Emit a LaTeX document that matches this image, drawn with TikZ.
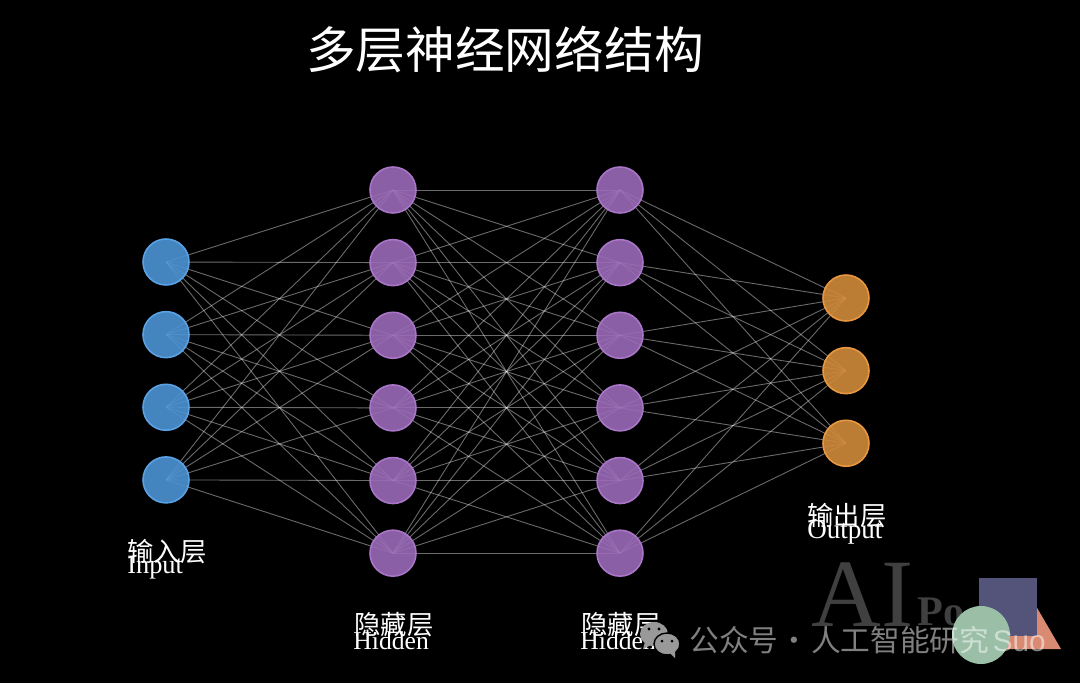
\documentclass[tikz,border=0pt]{standalone}
\usepackage{fontspec}
\usepackage{xcolor}
\usepackage{tikz}
\usetikzlibrary{backgrounds}
\setmainfont{Liberation Serif}
\setsansfont{Liberation Sans}
\newfontfamily\cjk{Noto Sans CJK SC}
\definecolor{inblue}{HTML}{4C93D4}
\definecolor{inrim}{HTML}{5AA2E6}
\definecolor{hidpurple}{HTML}{9A6AB7}
\definecolor{hidrim}{HTML}{A975C8}
\definecolor{outorange}{HTML}{D08A3A}
\definecolor{outrim}{HTML}{EA9840}
\definecolor{squareblue}{HTML}{54547A}
\definecolor{salmon}{HTML}{D98A72}
\definecolor{paleteal}{HTML}{9ABFA6}
\definecolor{wechatgray}{HTML}{999999}
\tikzset{
    neuron/.style={circle, minimum size=0.92cm, inner sep=0pt, line width=0.9pt, fill opacity=0.9},
    innode/.style={neuron, draw=inrim, fill=inblue},
    hidnode/.style={neuron, draw=hidrim, fill=hidpurple},
    outnode/.style={neuron, draw=outrim, fill=outorange},
    link/.style={draw=white, opacity=0.42, line width=0.5pt},
    layerlabel/.style={text=white, anchor=west, inner sep=0pt, font=\fontsize{15}{15}\selectfont}
}

\begin{document}
\begin{tikzpicture}[x=0.02cm, y=-0.02cm, node distance=1.453cm]

    \useasboundingbox (0,0) rectangle (1080,683);

    % Nodes
    \node (i1) at (166,262) [innode] {};
    \node (i2) [below of=i1, innode] {};
    \node (i3) [below of=i2, innode] {};
    \node (i4) [below of=i3, innode] {};

    \node (a1) at (393,190) [hidnode] {};
    \node (a2) [below of=a1, hidnode] {};
    \node (a3) [below of=a2, hidnode] {};
    \node (a4) [below of=a3, hidnode] {};
    \node (a5) [below of=a4, hidnode] {};
    \node (a6) [below of=a5, hidnode] {};

    \node (b1) at (620,190) [hidnode] {};
    \node (b2) [below of=b1, hidnode] {};
    \node (b3) [below of=b2, hidnode] {};
    \node (b4) [below of=b3, hidnode] {};
    \node (b5) [below of=b4, hidnode] {};
    \node (b6) [below of=b5, hidnode] {};

    \node (o1) at (846,298) [outnode] {};
    \node (o2) [below of=o1, outnode] {};
    \node (o3) [below of=o2, outnode] {};

    % Arrows
    \begin{scope}[on background layer]
        \fill[black] (0,0) rectangle (1080,683);
        \foreach \i in {1,...,4} {
            \foreach \j in {1,...,6} {
                \draw[link] (i\i.center) -- (a\j.center);
            }
        }
        \foreach \i in {1,...,6} {
            \foreach \j in {1,...,6} {
                \draw[link] (a\i.center) -- (b\j.center);
            }
        }
        \foreach \i in {1,...,6} {
            \foreach \j in {1,...,3} {
                \draw[link] (b\i.center) -- (o\j.center);
            }
        }
    \end{scope}

    % Labels
    \node (title) at (505,50) [text=white, font=\fontsize{28.3}{28.3}\cjk] {多层神经网络结构};
    \node (incn) at (127,552) [layerlabel] {\cjk 输入层};
    \node (inen) at (127,568) [layerlabel] {Input};
    \node (acn) at (354,625) [layerlabel] {\cjk 隐藏层};
    \node (aen) at (353,641) [layerlabel, font=\fontsize{14.6}{15}\selectfont] {Hidden};
    \node (bcn) at (581,625) [layerlabel] {\cjk 隐藏层};
    \node (ben) at (580,641) [layerlabel, font=\fontsize{14.6}{15}\selectfont] {Hidden};
    \node (ocn) at (807,516) [layerlabel] {\cjk 输出层};
    \node (oen) at (807,532) [layerlabel, font=\fontsize{15.4}{15}\selectfont] {Output};

    % Watermark
    \node (logoai) at (811,626) [anchor=base west, inner sep=0pt, text=white!25!black, font=\fontsize{55}{55}\selectfont] {AI};
    \node (logopo) at (917,625) [anchor=base west, inner sep=0pt, text=white!25!black, font=\fontsize{24}{24}\selectfont\bfseries] {Po};
    \fill[salmon] (1022,582) -- (1061,649) -- (983,649) -- cycle;
    \fill[squareblue] (979,578) rectangle (1037,636);
    \node (logoball) at (981,635) [circle, fill=paleteal, minimum size=1.16cm, inner sep=0pt] {};
    \fill[wechatgray] (654,634) ellipse (14 and 12);
    \fill[wechatgray] (645,642) -- (643,649) -- (651,645) -- cycle;
    \fill[wechatgray, draw=black, line width=0.8pt] (667,644) ellipse (13 and 11);
    \fill[wechatgray] (670,653) -- (675,658) -- (675,651) -- cycle;
    \fill[black] (649,629) circle (1.6) (659,629) circle (1.6) (662,641) circle (1.5) (672,641) circle (1.5);
    \node (mark) at (689,640) [anchor=west, inner sep=0pt, text=white, text opacity=0.5, font=\fontsize{16.9}{17}\cjk] {公众号\kern.05em·\kern.05em人工智能研究\kern.12em\sffamily Suo};

\end{tikzpicture}
\end{document}
